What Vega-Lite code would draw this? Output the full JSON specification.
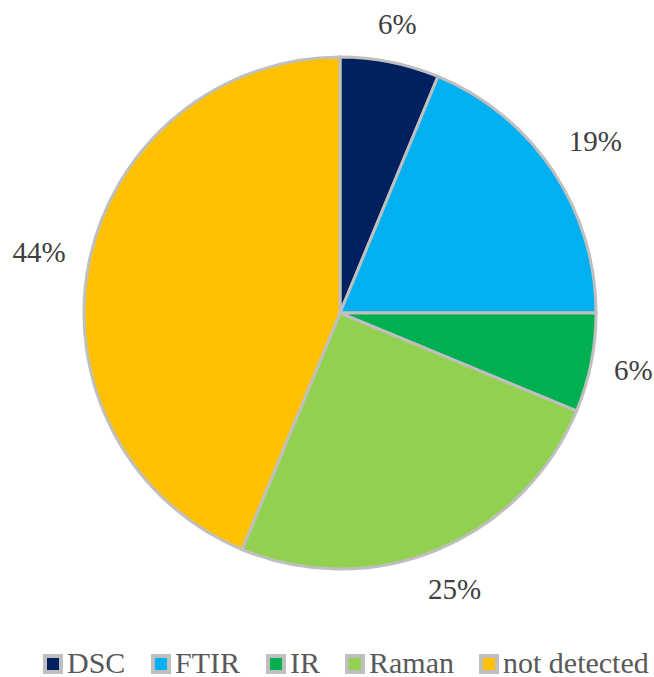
{
  "$schema": "https://vega.github.io/schema/vega-lite/v6.json",
  "autosize": "none",
  "padding": {"left": 0, "top": 0, "right": 0, "bottom": 51},
  "width": 680,
  "height": 626,
  "background": "white",
  "data": {
    "values": [
      {"method": "DSC", "share": 0.0625, "idx": 1},
      {"method": "FTIR", "share": 0.1875, "idx": 2},
      {"method": "IR", "share": 0.0625, "idx": 3},
      {"method": "Raman", "share": 0.25, "idx": 4},
      {"method": "not detected", "share": 0.4375, "idx": 5}
    ]
  },
  "encoding": {
    "theta": {"field": "share", "type": "quantitative", "stack": true},
    "order": {"field": "idx", "type": "quantitative"},
    "color": {
      "field": "method",
      "type": "nominal",
      "sort": ["DSC", "FTIR", "IR", "Raman", "not detected"],
      "scale": {
        "domain": ["DSC", "FTIR", "IR", "Raman", "not detected"],
        "range": ["#002060", "#00B0F0", "#00B050", "#92D050", "#FFC000"]
      },
      "legend": {
        "title": null,
        "orient": "none",
        "direction": "horizontal",
        "columns": 5,
        "legendX": 38,
        "legendY": 649,
        "symbolType": "square",
        "symbolSize": 256,
        "symbolStrokeColor": "#BFBFBF",
        "symbolStrokeWidth": 4,
        "labelFont": "Liberation Serif",
        "labelFontSize": 30,
        "labelColor": "#595959",
        "labelOffset": -1,
        "columnPadding": 19,
        "labelLimit": 300
      }
    }
  },
  "layer": [
    {
      "mark": {"type": "arc", "outerRadius": 256, "stroke": "#BFBFBF", "strokeWidth": 3}
    },
    {
      "mark": {
        "type": "text",
        "radius": {"expr": "278 + abs(sin(PI*(datum.share_start+datum.share_end)))*(datum.share < 0.1 ? 19 : 27) + abs(cos(PI*(datum.share_start+datum.share_end)))*12"},
        "font": "Liberation Serif",
        "fontSize": 29,
        "fill": "#404040"
      },
      "encoding": {
        "text": {"field": "share", "type": "quantitative", "format": ".0%"},
        "color": {"value": "#404040"}
      }
    }
  ],
  "config": {"view": {"stroke": null}}
}
